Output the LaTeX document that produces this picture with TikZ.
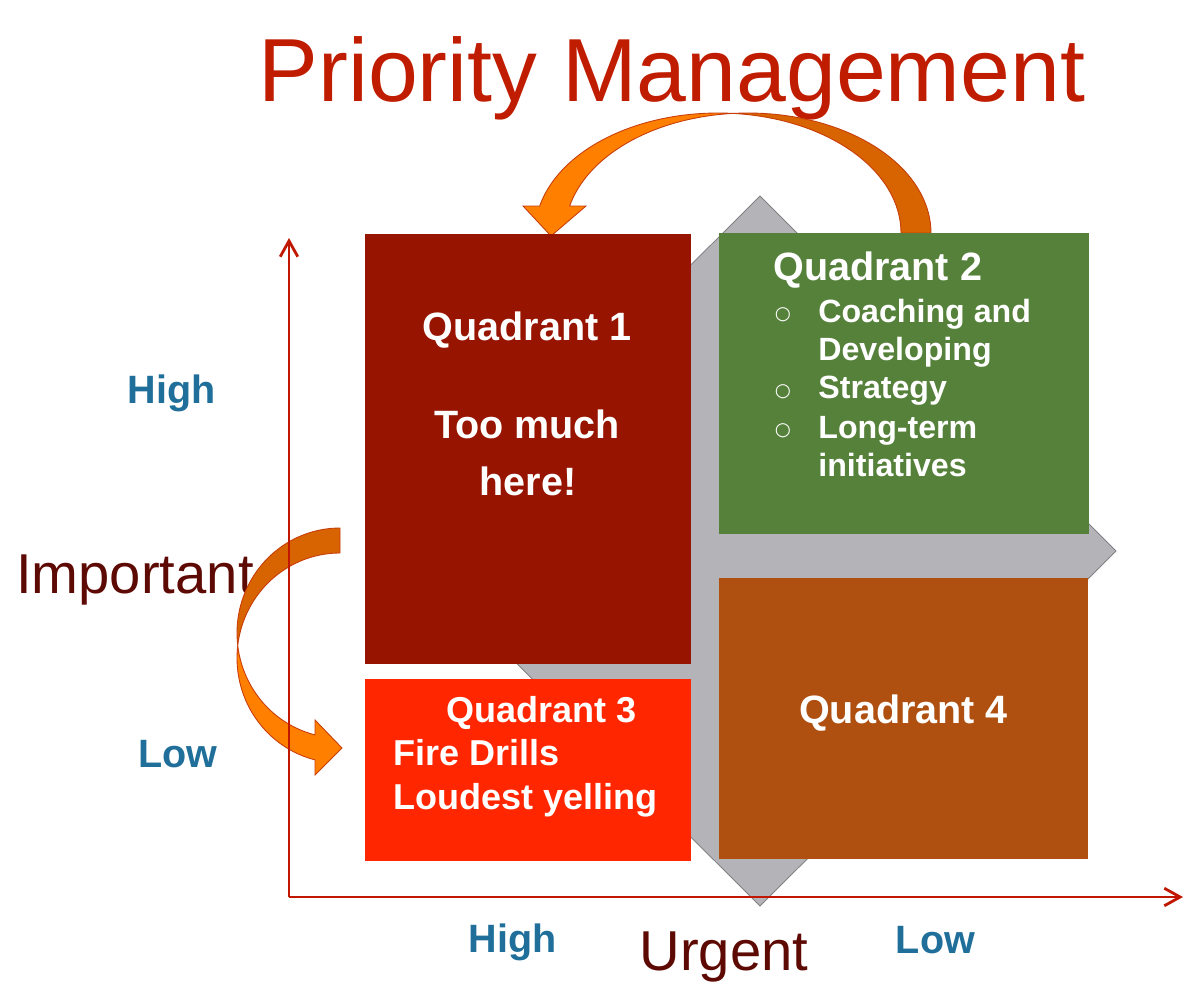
\documentclass[tikz,border=0pt]{standalone}
\usepackage{fontspec}
\setmainfont{Liberation Sans}
\newfontfamily\symfont{DejaVu Sans}
\usetikzlibrary{arrows.meta,shapes}
\definecolor{titlered}{RGB}{192,28,0}
\definecolor{axisred}{RGB}{192,24,0}
\definecolor{darkword}{RGB}{94,10,4}
\definecolor{levelblue}{RGB}{31,111,154}
\definecolor{qone}{RGB}{150,20,0}
\definecolor{qtwo}{RGB}{86,129,58}
\definecolor{qthree}{RGB}{255,38,0}
\definecolor{qfour}{RGB}{175,80,17}
\definecolor{diamondgray}{RGB}{180,180,184}
\definecolor{diamondrim}{RGB}{130,130,134}
\definecolor{brightorange}{RGB}{255,128,0}
\definecolor{darkorange}{RGB}{215,100,0}
\definecolor{arrowrim}{RGB}{200,60,10}
\tikzstyle{quadtext}=[text=white,font=\bfseries\fontsize{22.5}{27}\selectfont,anchor=base,inner sep=0pt]
\tikzstyle{item}=[text=white,font=\bfseries\fontsize{18.3}{22}\selectfont,anchor=base west,inner sep=0pt]
\tikzstyle{fireitem}=[text=white,font=\bfseries\fontsize{20.5}{24}\selectfont,anchor=base west,inner sep=0pt]
\tikzstyle{bullet}=[text=white,font=\symfont\fontsize{10.5}{12}\selectfont,inner sep=0pt]
\tikzstyle{level}=[text=levelblue,font=\bfseries\fontsize{22.5}{27}\selectfont,anchor=base,inner sep=0pt]
\tikzstyle{axisword}=[text=darkword,font=\fontsize{32}{38}\selectfont,anchor=base,inner sep=0pt]
\tikzstyle{axis}=[draw=axisred,line width=1.3pt,-{Straight Barb[length=9pt,width=10pt,line width=1.6pt]}]
\tikzstyle{band}=[draw=arrowrim,line width=0.5pt]

\begin{document}
\begin{tikzpicture}[x=0.02cm,y=-0.02cm]
    \useasboundingbox (0,0) rectangle (1200,990);
    % Gray diamond behind the quadrants
    \path[fill=diamondgray,draw=diamondrim,line width=0.5pt] (760,196) -- (1116,551) -- (760,906) -- (404,551) -- cycle;
    % Title and axis words
    \node[text=titlered,font=\fontsize{51}{60}\selectfont,anchor=base,inner sep=0pt] (title) at (672,102) {Priority Management};
    \node[axisword] (important) at (135,593) {Important};
    \node[axisword] (urgent) at (724,970) {Urgent};
    \foreach \pos/\name/\word in {{(171.5,403)/himp/High}, {(178,767)/limp/Low}, {(512.5,952)/hurg/High}, {(935.5,953)/lurg/Low}}
        \node[level] (\name) at \pos {\word};
    % Curved arrow from Quadrant 1 down to Quadrant 3
    \path[band,fill=darkorange] plot[domain=90:186.84,samples=40] ({340+103*cos(\x)},{633-105*sin(\x)})
        -- plot[domain=173.16:90,samples=40] ({340+103*cos(\x)},{658-105*sin(\x)}) -- cycle;
    \path[band,fill=brightorange] plot[domain=173.16:255.95,samples=40] ({340+103*cos(\x)},{658-105*sin(\x)})
        -- (315,775) -- (342,748) -- (315,720)
        -- plot[domain=255.95:186.84,samples=40] ({340+103*cos(\x)},{633-105*sin(\x)}) -- cycle;
    % Axes
    \coordinate (origin) at (289,897);
    \coordinate (ytip) at (289,238);
    \coordinate (xtip) at (1183,897);
    \path[axis] (origin) -- (ytip);
    \path[axis] (origin) -- (xtip);
    % Curved arrow from Quadrant 2 over to Quadrant 1
    \path[band,fill=darkorange] plot[domain=0:94.7,samples=40] ({748+183*cos(\x)},{233-120*sin(\x)})
        -- plot[domain=85.3:0,samples=40] ({718+183*cos(\x)},{233-120*sin(\x)}) -- cycle;
    \path[band,fill=brightorange] plot[domain=167:85.3,samples=40] ({718+183*cos(\x)},{233-120*sin(\x)})
        -- plot[domain=94.7:167,samples=40] ({748+183*cos(\x)},{233-120*sin(\x)})
        -- (586,206) -- (551,236) -- (523,206) -- cycle;
    % The four quadrants
    \fill[qone] (365,234) rectangle (691,664);
    \fill[qtwo] (719,233) rectangle (1089,534);
    \fill[qthree] (365,679) rectangle (691,861);
    \fill[qfour] (719,578) rectangle (1088,859);
    % Quadrant texts
    \node[quadtext] (qonehead) at (527,340) {Quadrant 1};
    \node[quadtext] (qonea) at (527,438) {Too much};
    \node[quadtext] (qoneb) at (528,495) {here!};
    \node[quadtext,anchor=base west] (qtwohead) at (773,280) {Quadrant 2};
    \foreach \y/\name in {315/bone, 392/btwo, 431/bthree}
        \node[bullet] (\name) at (783,\y) {○};
    \foreach \y/\name/\txt in {322/cone/Coaching and, 360/ctwo/Developing, 398/cthree/Strategy, 438/cfour/Long-term, 476/cfive/initiatives}
        \node[item] (\name) at (818,\y) {\txt};
    \node[quadtext,font=\bfseries\fontsize{20.5}{24}\selectfont] (qthreehead) at (541.5,722) {Quadrant 3};
    \node[fireitem] (fone) at (393,765) {Fire Drills};
    \node[fireitem] (ftwo) at (393,809) {Loudest yelling};
    \node[quadtext] (qfourhead) at (903.5,723) {Quadrant 4};
\end{tikzpicture}
\end{document}
